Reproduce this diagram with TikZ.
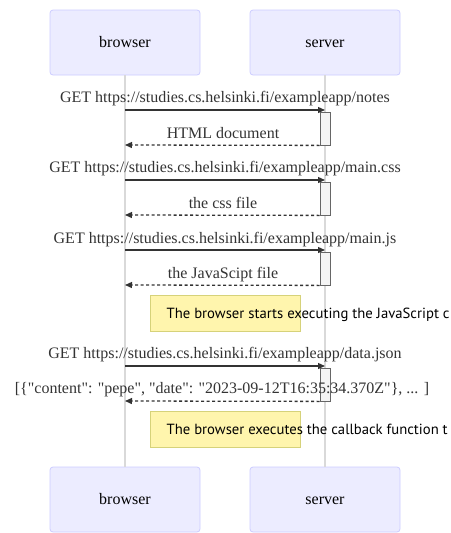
\documentclass[tikz,border=0pt]{standalone}
\usepackage{fontspec}
\setmainfont{Liberation Serif}
\newfontfamily\notefont{PT Sans}
\usetikzlibrary{arrows.meta}
\definecolor{actfill}{HTML}{ECECFF}
\definecolor{actline}{HTML}{CCCCFF}
\definecolor{lifegray}{HTML}{D9D9D9}
\definecolor{msgc}{HTML}{333333}
\definecolor{actgray}{HTML}{666666}
\definecolor{actbg}{HTML}{F4F4F4}
\definecolor{notefill}{HTML}{FFF5AD}
\definecolor{notedraw}{HTML}{D6D27A}
\begin{document}
\begin{tikzpicture}[x=1pt,y=-1pt,
 actor/.style={draw=actline, fill=actfill, rounded corners=3pt, minimum width=150pt, minimum height=65pt, inner sep=0, line width=0.8pt},
 actlbl/.style={font=\fontsize{16}{19}\selectfont, inner sep=0, anchor=base},
 life/.style={draw=lifegray, line width=1.4pt},
 msg/.style={draw=msgc, line width=1.3pt, -{Triangle[length=7pt,width=6pt]}},
 ret/.style={msg, dash pattern=on 3pt off 2.5pt},
 lbl/.style={font=\fontsize{16}{19}\selectfont, text=msgc, inner sep=0, anchor=base},
 actbox/.style={draw=actgray, fill=actbg, minimum width=10pt, minimum height=33pt, inner sep=0, line width=0.8pt},
 notebox/.style={draw=notedraw, fill=notefill, line width=0.8pt, minimum width=150pt, minimum height=36pt, inner sep=0},
 notetxt/.style={font=\notefont\fontsize{14.7}{17}\selectfont, inner sep=0, anchor=base west}
]
\useasboundingbox (0,0) rectangle (450,533);
\clip (0,0) rectangle (450,533);
% actors
\node[actor] (bt) at (125,42.5) {};
\node[actor] (st) at (325,42.5) {};
\node[actor] (bb) at (125,499.5) {};
\node[actor] (sb) at (325,499.5) {};
\node[actlbl] (btl) at (125,47) {browser};
\node[actlbl] (stl) at (325,47) {server};
\node[actlbl] (bbl) at (125,504.5) {browser};
\node[actlbl] (sbl) at (325,504.5) {server};
% lifelines
\draw[life] (bt.south) -- (bb.north);
\draw[life] (st.south) -- (sb.north);
% notes
\node[notebox] (n1) at (225,313) {};
\node[notetxt] (n1t) at (166.5,318) {The browser starts executing the JavaScript c};
\node[notebox] (n2) at (225,429.5) {};
\node[notetxt] (n2t) at (166.5,434) {The browser executes the callback function t};
% activations
\node[actbox] (a1) at (325,128.5) {};
\node[actbox] (a2) at (325,198.5) {};
\node[actbox] (a3) at (325,268.5) {};
\node[actbox] (a4) at (325,384.5) {};
% message endpoints
\coordinate (m1s) at (125,110);  \coordinate (m1e) at (325,110);
\coordinate (r1e) at (125,145);
\coordinate (m2s) at (125,180);  \coordinate (m2e) at (325,180);
\coordinate (r2e) at (125,215);
\coordinate (m3s) at (125,250);  \coordinate (m3e) at (325,250);
\coordinate (r3e) at (125,285);
\coordinate (m4s) at (125,366);  \coordinate (m4e) at (325,366);
\coordinate (r4e) at (125,401);
% messages
\draw[msg] (m1s) -- (m1e);
\draw[ret] (a1.south west) -- (r1e);
\draw[msg] (m2s) -- (m2e);
\draw[ret] (a2.south west) -- (r2e);
\draw[msg] (m3s) -- (m3e);
\draw[ret] (a3.south west) -- (r3e);
\draw[msg] (m4s) -- (m4e);
\draw[ret] (a4.south west) -- (r4e);
% labels
\node[lbl] (l1) at (225,102) {GET https://studies.cs.helsinki.fi/exampleapp/notes};
\node[lbl] (l1r) at (223,138) {HTML document};
\node[lbl] (l2) at (225,172.5) {GET https://studies.cs.helsinki.fi/exampleapp/main.css};
\node[lbl] (l2r) at (223,208) {the css file};
\node[lbl] (l3) at (225,243) {GET https://studies.cs.helsinki.fi/exampleapp/main.js};
\node[lbl] (l3r) at (223,278) {the JavaScipt file};
\node[lbl] (l4) at (225,358) {GET https://studies.cs.helsinki.fi/exampleapp/data.json};
\node[lbl] (l4r) at (222,393) {[\{\textquotedbl content\textquotedbl: \textquotedbl pepe\textquotedbl, \textquotedbl date\textquotedbl: \textquotedbl 2023-09-12T16:35:34.370Z\textquotedbl\}, ... ]};
\end{tikzpicture}
\end{document}
